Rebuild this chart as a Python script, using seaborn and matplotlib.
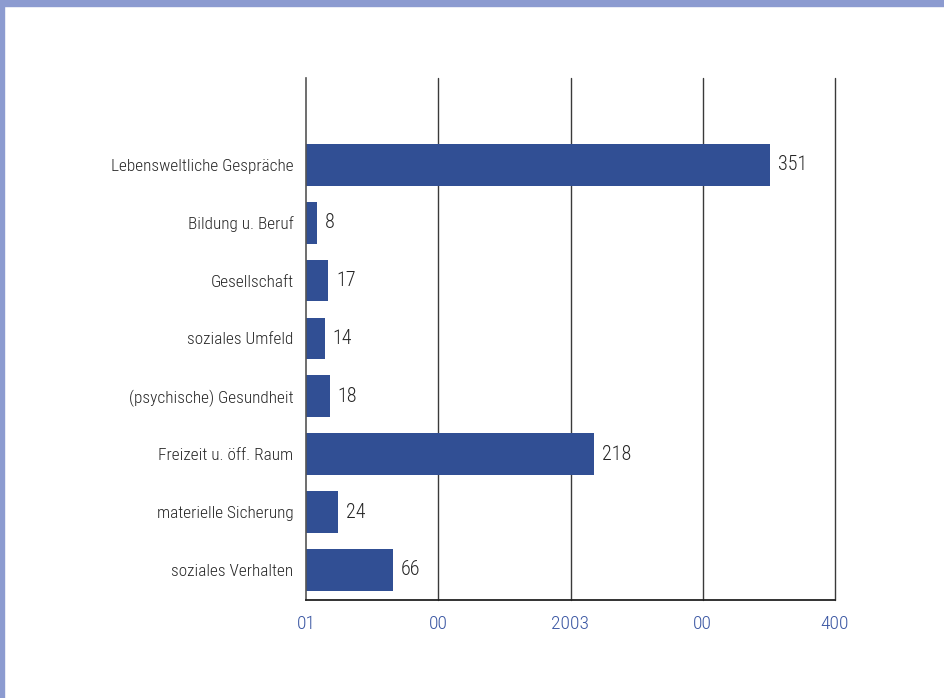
import matplotlib
matplotlib.use("Agg")
import matplotlib.pyplot as plt
import matplotlib.patches as mpatches
from matplotlib import font_manager
import seaborn as sns
import pandas as pd

categories = [
    "Lebensweltliche Gespräche",
    "Bildung u. Beruf",
    "Gesellschaft",
    "soziales Umfeld",
    "(psychische) Gesundheit",
    "Freizeit u. öff. Raum",
    "materielle Sicherung",
    "soziales Verhalten",
]
counts = [351, 8, 17, 14, 18, 218, 24, 66]
tick_values = [0, 100, 200, 300, 400]
tick_labels = ["01", "00", "2003", "00", "400"]

df = pd.DataFrame({"Kategorie": categories, "Anzahl": counts})

sns.set_theme(style="white")
names = {f.name for f in font_manager.fontManager.ttflist}
family = "Roboto"
for cand in ["Roboto Condensed", "Barlow Semi Condensed", "Archivo Narrow", "Asap Condensed"]:
    if cand in names:
        family = cand
        break
plt.rcParams["font.family"] = [family, "DejaVu Sans"]
plt.rcParams["font.weight"] = "light"

bar_color = "#314f94"
tick_color = "#3b57a3"
text_color = "#262626"

fig = plt.figure(figsize=(9.45, 6.98), dpi=100)
fig.patch.set_facecolor("white")
ax = fig.add_axes([306 / 945, 1 - 600 / 698, (835 - 306) / 945, (600 - 78) / 698])

sns.barplot(data=df, x="Anzahl", y="Kategorie", color=bar_color,
            saturation=1, width=0.72, linewidth=0, ax=ax)

ax.set_xlim(0, 400)
ax.set_ylim(7.52, -1.5)
ax.set_xticks(tick_values)
ax.set_xticklabels(tick_labels, color=tick_color, fontsize=14)
ax.tick_params(axis="x", length=0, pad=11)
ax.tick_params(axis="y", length=0, pad=9, labelsize=12.4, labelcolor=text_color)
ax.set_xlabel("")
ax.set_ylabel("")

for v in tick_values[1:]:
    ax.axvline(v, color="#3a3a3a", lw=1.0, zorder=0, clip_on=False)

for s in ["top", "right"]:
    ax.spines[s].set_visible(False)
ax.spines["left"].set_color("#555555")
ax.spines["left"].set_linewidth(1.2)
ax.spines["bottom"].set_color("#222222")
ax.spines["bottom"].set_linewidth(1.3)

for i, v in enumerate(counts):
    ax.text(v + 6, i, str(v), va="center", ha="left",
            fontsize=14.5, color=text_color)

# decorative frame strips
fig.patches.append(mpatches.Rectangle((0, 1 - 6 / 698), 1, 6 / 698,
                                      transform=fig.transFigure,
                                      color="#8c9bd0", zorder=10))
fig.patches.append(mpatches.Rectangle((0, 0), 4 / 945, 1,
                                      transform=fig.transFigure,
                                      color="#8c9bd0", zorder=10))

fig.savefig("out.png", dpi=100, facecolor="white")
